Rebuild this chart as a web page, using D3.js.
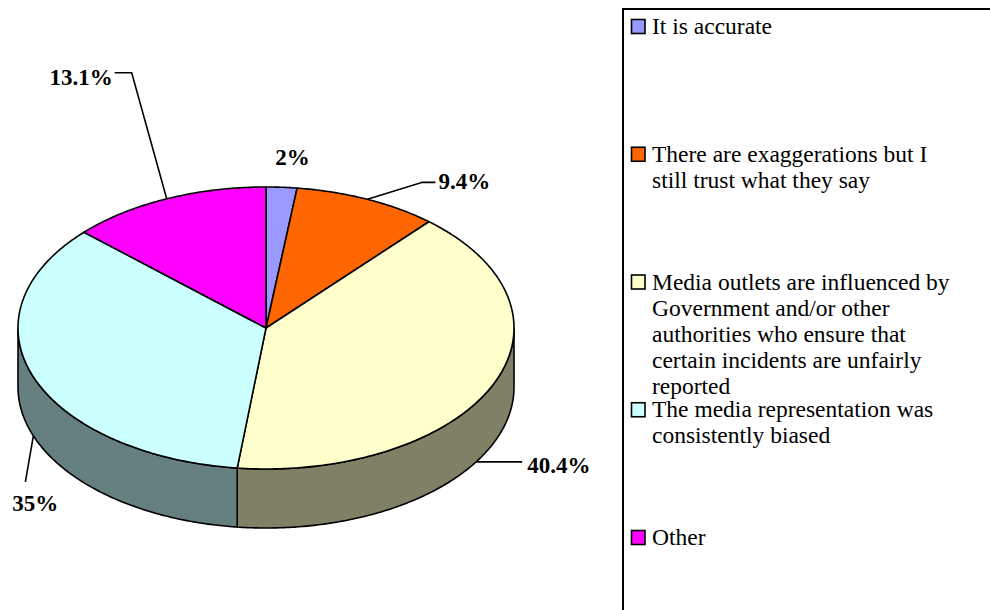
<!DOCTYPE html>
<html>
<head>
<meta charset="utf-8">
<script src="https://cdn.jsdelivr.net/npm/d3@7/dist/d3.min.js"></script>
<style>
  html, body { margin: 0; padding: 0; background: #fff; }
  svg { display: block; }
</style>
</head>
<body>
<script>
// Survey answers and their share of respondents (%)
const categories = [
  "It is accurate",
  "There are exaggerations but I still trust what they say",
  "Media outlets are influenced by Government and/or other authorities who ensure that certain incidents are unfairly reported",
  "The media representation was consistently biased",
  "Other"
];
const values = [2, 9.4, 40.4, 35, 13.1];
const valueLabels = ["2%", "9.4%", "40.4%", "35%", "13.1%"];

// Face colours of the slices and the darker tone used for their rims
const topColors  = ["#9999FF", "#FF6600", "#FFFFCC", "#CCFFFF", "#FF00FF"];
const sideColors = ["#4D4D80", "#803300", "#808066", "#668080", "#800080"];

const W = 990, H = 610;
const svg = d3.select("body").append("svg").attr("width", W).attr("height", H);
svg.append("rect").attr("width", W).attr("height", H).attr("fill", "#fff");

// Tilted pie geometry
const cx = 266, cy = 328, rx = 248, ry = 141, depth = 59;
const pt = (a, dy = 0) => [cx + rx * Math.sin(a), cy - ry * Math.cos(a) + dy];

const pie = d3.pie().sort(null).value(d => d)(values);

const line = d3.line();
function arcPoints(a0, a1, dy) {
  const n = Math.max(2, Math.ceil(Math.abs(a1 - a0) / 0.01));
  return d3.range(n + 1).map(i => pt(a0 + (a1 - a0) * i / n, dy));
}

const g = svg.append("g");

// Rim (visible front half: from 90° to 270° measured clockwise from top)
const frontStart = Math.PI / 2, frontEnd = 3 * Math.PI / 2;
pie.forEach((s, i) => {
  const a0 = Math.max(s.startAngle, frontStart);
  const a1 = Math.min(s.endAngle, frontEnd);
  if (a1 <= a0) return;
  const pts = arcPoints(a0, a1, 0).concat(arcPoints(a1, a0, depth));
  g.append("path")
    .attr("d", line(pts) + "Z")
    .attr("fill", sideColors[i])
    .attr("stroke", "#000")
    .attr("stroke-width", 1.6)
    .attr("stroke-linejoin", "round");
});

// Top faces
pie.forEach((s, i) => {
  const pts = [[cx, cy]].concat(arcPoints(s.startAngle, s.endAngle, 0));
  g.append("path")
    .attr("d", line(pts) + "Z")
    .attr("fill", topColors[i])
    .attr("stroke", "#000")
    .attr("stroke-width", 1.6)
    .attr("stroke-linejoin", "round");
});

// Value labels with leader lines. Each label hangs off a point on the slice
// edge (top rim or lower rim); the leader bends are offsets from that point.
const labelLayout = [
  { shift: 0,    rim: 0,     leader: null,                       text: [11, -22], anchor: "middle" },
  { shift: 0,    rim: 0,     leader: [[55, -17], [68, -17]],     text: [71, -10], anchor: "start" },
  { shift: 0.143, rim: depth, leader: [[46, 0]],                  text: [51, 11],  anchor: "start" },
  { shift: 0,    rim: depth, leader: [[-8, 46]],                 text: [2, 75],   anchor: "middle" },
  { shift: 0,    rim: 0,     leader: [[-35, -126], [-52, -126]], text: [-54, -114], anchor: "end" }
];

pie.forEach((s, i) => {
  const L = labelLayout[i];
  const mid = (s.startAngle + s.endAngle) / 2 + L.shift;
  const p = pt(mid, L.rim);
  if (L.leader) {
    const pts = [p].concat(L.leader.map(o => [p[0] + o[0], p[1] + o[1]]));
    g.append("path")
      .attr("d", line(pts))
      .attr("fill", "none")
      .attr("stroke", "#000")
      .attr("stroke-width", 1.6);
  }
  g.append("text")
    .attr("x", p[0] + L.text[0])
    .attr("y", p[1] + L.text[1])
    .attr("text-anchor", L.anchor)
    .attr("font-family", "'Liberation Serif', 'Times New Roman', serif")
    .attr("font-weight", "bold")
    .attr("font-size", "23px")
    .attr("fill", "#000")
    .text(valueLabels[i]);
});

// Legend
const legend = svg.append("g");
legend.append("rect")
  .attr("x", 623).attr("y", 9)
  .attr("width", 500).attr("height", 700)
  .attr("fill", "none")
  .attr("stroke", "#000")
  .attr("stroke-width", 2);

const legendY = d3.scaleLinear().domain([0, categories.length - 1]).range([34, 545]);
const fontSize = 23.5, lineH = 26, wrapWidth = 307;

const measurer = svg.append("text")
  .attr("font-family", "'Liberation Serif', 'Times New Roman', serif")
  .attr("font-size", fontSize + "px")
  .attr("visibility", "hidden");
function wrap(str) {
  const words = str.split(" ");
  const lines = [];
  let cur = "";
  words.forEach(w => {
    const test = cur ? cur + " " + w : w;
    measurer.text(test);
    if (cur && measurer.node().getComputedTextLength() > wrapWidth) {
      lines.push(cur);
      cur = w;
    } else {
      cur = test;
    }
  });
  if (cur) lines.push(cur);
  return lines;
}

categories.forEach((c, i) => {
  const y = legendY(i);
  legend.append("rect")
    .attr("x", 631.5).attr("y", y - 14.5)
    .attr("width", 13.5).attr("height", 14)
    .attr("fill", topColors[i])
    .attr("stroke", "#000")
    .attr("stroke-width", 1.6);
  const t = legend.append("text")
    .attr("x", 652).attr("y", y)
    .attr("font-family", "'Liberation Serif', 'Times New Roman', serif")
    .attr("font-size", fontSize + "px")
    .attr("fill", "#000");
  wrap(c).forEach((ln, k) => {
    t.append("tspan").attr("x", 652).attr("y", y + k * lineH).text(ln);
  });
});
measurer.remove();
</script>
</body>
</html>
